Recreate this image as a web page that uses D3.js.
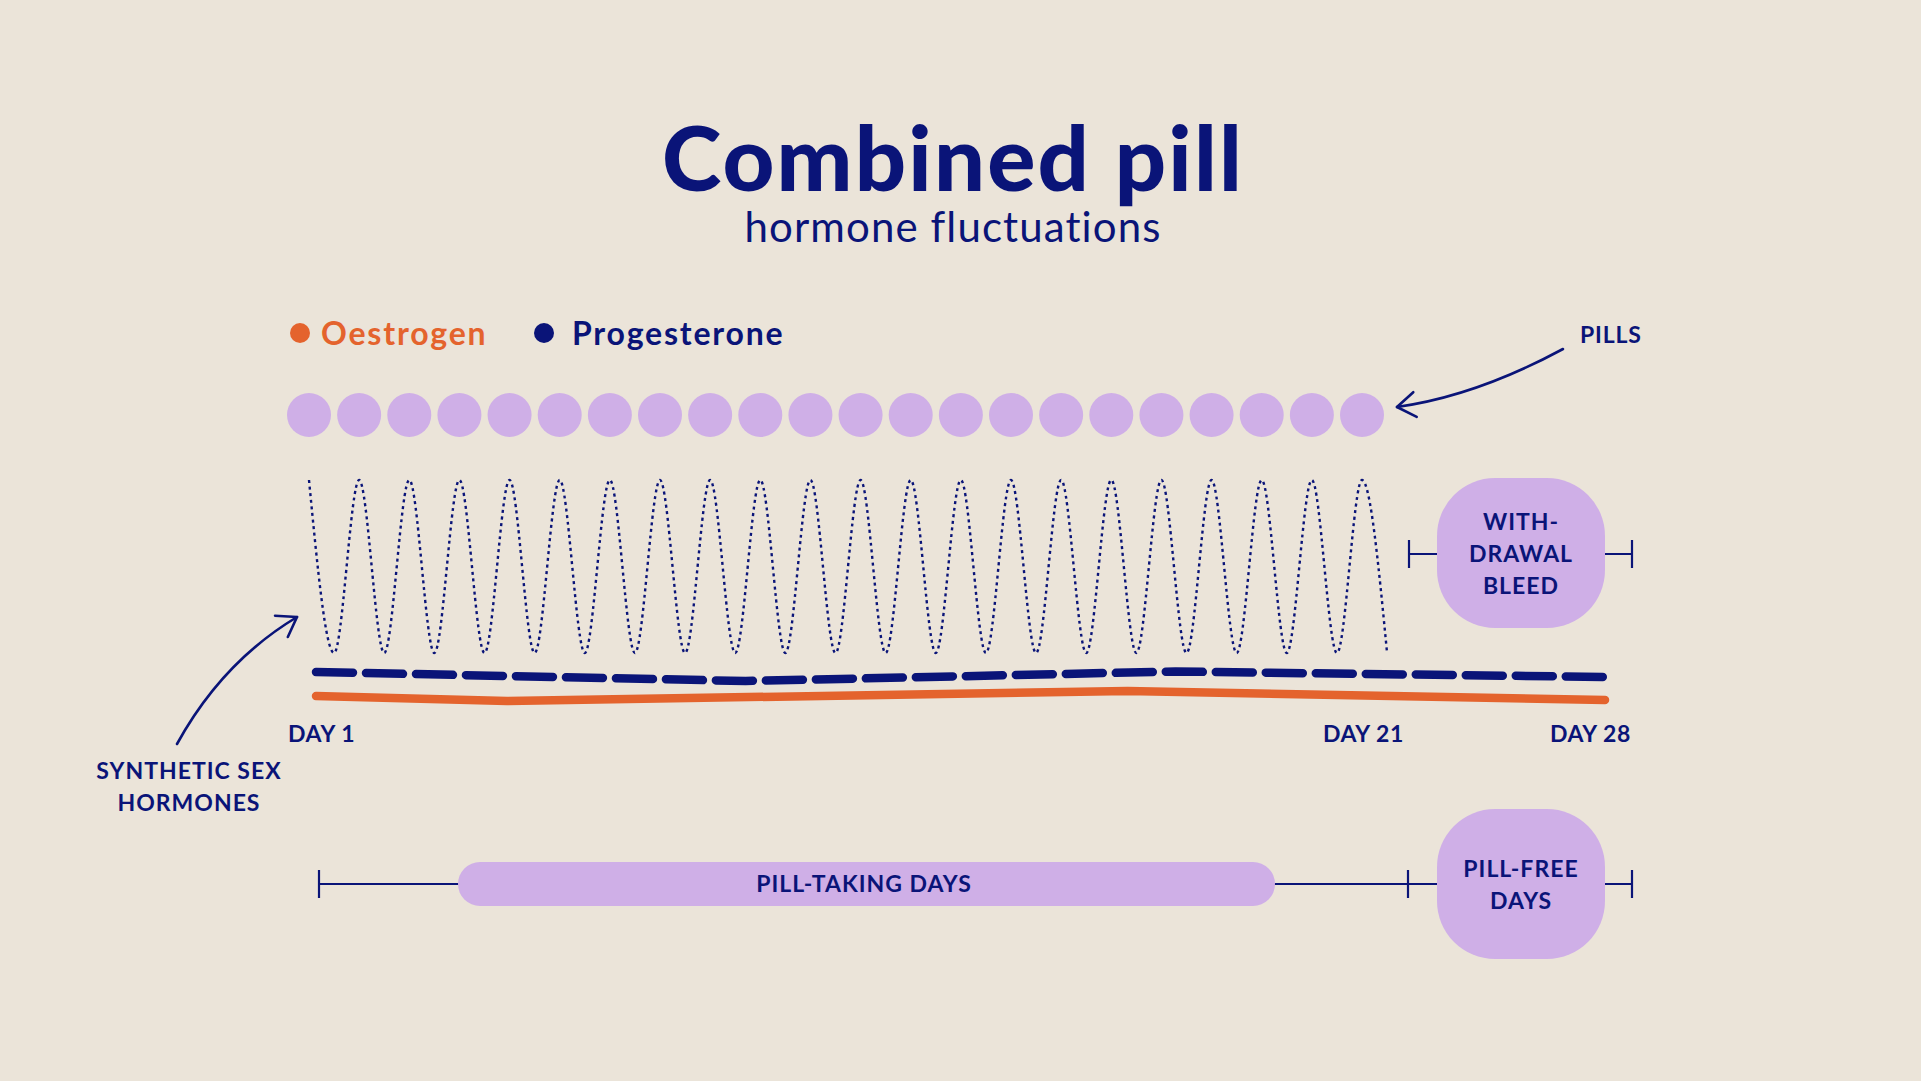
<!DOCTYPE html>
<html>
<head>
<meta charset="utf-8">
<script src="https://cdn.jsdelivr.net/npm/d3@7/dist/d3.min.js"></script>
<style>
  html, body { margin: 0; padding: 0; background: #ebe4d9; }
  svg { display: block; }
</style>
</head>
<body>
<div id="vis"></div>
<script>

////////////////////////////////////////
/////////////// Data ///////////////////
////////////////////////////////////////

// one pill per day, 21 active days (+1 drawn at the end of the strip)
const pillDays = [1, 2, 3, 4, 5, 6, 7, 8, 9, 10, 11, 12, 13, 14, 15, 16, 17, 18, 19, 20, 21, 22];

// synthetic hormone level, every half pill (peak / trough)
const syntheticLevels = [
  1, 0, 1, 0, 1, 0, 1, 0, 1, 0, 1, 0, 1, 0, 1, 0, 1, 0, 1, 0, 1, 0,
  1, 0, 1, 0, 1, 0, 1, 0, 1, 0, 1, 0, 1, 0, 1, 0, 1, 0, 1, 0, 1, 0
];

// natural hormone levels over the cycle
const progesteroneDays = [1, 10, 19, 28];
const progesteroneLevels = [8.0, 6.2, 8.1, 7.0];
const oestrogenDays = [1, 5, 18, 28];
const oestrogenLevels = [3.2, 2.2, 4.2, 2.4];

const legendLabels = ["Oestrogen", "Progesterone"];
const dayLabels = ["DAY 1", "DAY 21", "DAY 28"];

////////////////////////////////////////
/////////////// Options ////////////////
////////////////////////////////////////

const options = {
  width: 1921,
  height: 1081,
  bg: "#ebe4d9",
  navy: "#0a1478",
  orange: "#e4632d",
  lavender: "#cfafe7",
  font: "Lato, 'Open Sans', sans-serif"
};

////////////////////////////////////////
////////////// SVG Setup ///////////////
////////////////////////////////////////

const svg = d3.select("#vis").append("svg")
  .attr("width", options.width)
  .attr("height", options.height)
  .attr("viewBox", `0 0 ${options.width} ${options.height}`)
  .style("font-family", options.font);

svg.append("rect")
  .attr("width", options.width)
  .attr("height", options.height)
  .attr("fill", options.bg);

////////////////////////////////////////
////////////// Scales //////////////////
////////////////////////////////////////

const pillX = d3.scaleLinear().domain([1, 22]).range([309, 1362]);
const waveY = d3.scaleLinear().domain([0, 1]).range([653, 480]);
const cycleX = d3.scaleLinear().domain([1, 28]).range([316, 1605]);
const levelY = d3.scaleLinear().domain([0, 10]).range([712, 662]);

////////////////////////////////////////
////////////// Title ///////////////////
////////////////////////////////////////

svg.append("text")
  .attr("x", 953)
  .attr("y", 191)
  .attr("text-anchor", "middle")
  .attr("fill", options.navy)
  .attr("font-size", 90)
  .attr("font-weight", 900)
  .attr("letter-spacing", 2.2)
  .text("Combined pill");

svg.append("text")
  .attr("x", 953)
  .attr("y", 242)
  .attr("text-anchor", "middle")
  .attr("fill", options.navy)
  .attr("font-size", 42)
  .attr("font-weight", 400)
  .attr("letter-spacing", 1.1)
  .text("hormone fluctuations");

////////////////////////////////////////
////////////// Legend //////////////////
////////////////////////////////////////

const legendColors = [options.orange, options.navy];
const legendX = [300, 544];

const legend = svg.selectAll(".legend")
  .data(legendLabels)
  .join("g")
  .classed("legend", true)
  .attr("transform", (d, i) => `translate(${legendX[i]},333)`);

legend.append("circle")
  .attr("r", 10)
  .attr("fill", (d, i) => legendColors[i]);

legend.append("text")
  .attr("x", (d, i) => i === 0 ? 21 : 28)
  .attr("y", 12)
  .attr("fill", (d, i) => legendColors[i])
  .attr("font-size", 32)
  .attr("font-weight", 700)
  .attr("letter-spacing", 1.8)
  .text(d => d);

////////////////////////////////////////
////////////// Pills ///////////////////
////////////////////////////////////////

svg.selectAll(".pill")
  .data(pillDays)
  .join("circle")
  .classed("pill", true)
  .attr("cx", d => pillX(d))
  .attr("cy", 415)
  .attr("r", 22)
  .attr("fill", options.lavender);

////////////////////////////////////////
////////////// Lines ///////////////////
////////////////////////////////////////

const wave = d3.line()
  .x((d, i) => pillX(1 + i / 2))
  .y(d => waveY(d))
  .curve(d3.curveMonotoneX);

svg.append("path")
  .attr("d", wave(syntheticLevels))
  .attr("fill", "none")
  .attr("stroke", options.navy)
  .attr("stroke-width", 2.4)
  .attr("stroke-dasharray", "3 3.6");

const hormoneLine = d3.line()
  .x(d => cycleX(d[0]))
  .y(d => levelY(d[1]))
  .curve(d3.curveLinear);

svg.append("path")
  .attr("d", hormoneLine(oestrogenDays.map((d, i) => [d, oestrogenLevels[i]])))
  .attr("fill", "none")
  .attr("stroke", options.orange)
  .attr("stroke-width", 8.5)
  .attr("stroke-linecap", "round");

svg.append("path")
  .attr("d", hormoneLine(progesteroneDays.map((d, i) => [d, progesteroneLevels[i]])))
  .attr("fill", "none")
  .attr("stroke", options.navy)
  .attr("stroke-width", 8.5)
  .attr("stroke-linecap", "round")
  .attr("stroke-dasharray", "37 13");

////////////////////////////////////////
////////////// Day labels //////////////
////////////////////////////////////////

const dayX = [288, 1404, 1631];
const dayAnchor = ["start", "end", "end"];

svg.selectAll(".day")
  .data(dayLabels)
  .join("text")
  .classed("day", true)
  .attr("x", (d, i) => dayX[i])
  .attr("y", 742)
  .attr("text-anchor", (d, i) => dayAnchor[i])
  .attr("fill", options.navy)
  .attr("font-size", 23)
  .attr("font-weight", 700)
  .attr("letter-spacing", 0.6)
  .text(d => d);

////////////////////////////////////////
////////////// Brackets ////////////////
////////////////////////////////////////

function tick(x, y) {
  svg.append("line")
    .attr("x1", x).attr("x2", x)
    .attr("y1", y - 14).attr("y2", y + 14)
    .attr("stroke", options.navy)
    .attr("stroke-width", 2.2);
}

function hline(x1, x2, y) {
  svg.append("line")
    .attr("x1", x1).attr("x2", x2)
    .attr("y1", y).attr("y2", y)
    .attr("stroke", options.navy)
    .attr("stroke-width", 2.2);
}

function labelBlock(cx, lines, firstBaseline, lineHeight) {
  svg.append("text")
    .attr("text-anchor", "middle")
    .attr("fill", options.navy)
    .attr("font-size", 23)
    .attr("font-weight", 700)
    .attr("letter-spacing", 1)
    .selectAll("tspan")
    .data(lines)
    .join("tspan")
    .attr("x", cx)
    .attr("y", (d, i) => firstBaseline + i * lineHeight)
    .text(d => d);
}

// withdrawal bleed
hline(1409, 1632, 554);
tick(1409, 554);
tick(1632, 554);
svg.append("rect")
  .attr("x", 1437).attr("y", 478)
  .attr("width", 168).attr("height", 150)
  .attr("rx", 58)
  .attr("fill", options.lavender);
labelBlock(1521, ["WITH-", "DRAWAL", "BLEED"], 530, 32);

// pill-taking / pill-free
hline(319, 1632, 884);
tick(319, 884);
tick(1408, 884);
tick(1632, 884);
svg.append("rect")
  .attr("x", 458).attr("y", 862)
  .attr("width", 817).attr("height", 44)
  .attr("rx", 22)
  .attr("fill", options.lavender);
labelBlock(864, ["PILL-TAKING DAYS"], 892, 0);

svg.append("rect")
  .attr("x", 1437).attr("y", 809)
  .attr("width", 168).attr("height", 150)
  .attr("rx", 58)
  .attr("fill", options.lavender);
labelBlock(1521, ["PILL-FREE", "DAYS"], 877, 32);

////////////////////////////////////////
////////////// Annotations /////////////
////////////////////////////////////////

function arrow(p0, c, p1) {
  const p = d3.path();
  p.moveTo(p0[0], p0[1]);
  p.quadraticCurveTo(c[0], c[1], p1[0], p1[1]);
  svg.append("path")
    .attr("d", p.toString())
    .attr("fill", "none")
    .attr("stroke", options.navy)
    .attr("stroke-width", 2.6)
    .attr("stroke-linecap", "round");

  // arrow head from tangent at the tip
  const a = Math.atan2(c[1] - p1[1], c[0] - p1[0]);
  const len = 22, spread = 0.6;
  const head = d3.path();
  head.moveTo(p1[0] + len * Math.cos(a - spread), p1[1] + len * Math.sin(a - spread));
  head.lineTo(p1[0], p1[1]);
  head.lineTo(p1[0] + len * Math.cos(a + spread), p1[1] + len * Math.sin(a + spread));
  svg.append("path")
    .attr("d", head.toString())
    .attr("fill", "none")
    .attr("stroke", options.navy)
    .attr("stroke-width", 2.6)
    .attr("stroke-linecap", "round")
    .attr("stroke-linejoin", "round");
}

svg.append("text")
  .attr("x", 1580).attr("y", 343)
  .attr("fill", options.navy)
  .attr("font-size", 23)
  .attr("font-weight", 700)
  .attr("letter-spacing", 0.8)
  .text("PILLS");
arrow([1563, 349], [1476, 396], [1397, 407]);

labelBlock(189, ["SYNTHETIC SEX", "HORMONES"], 779, 32);
arrow([177, 744], [222, 662], [297, 617]);

</script>
</body>
</html>
